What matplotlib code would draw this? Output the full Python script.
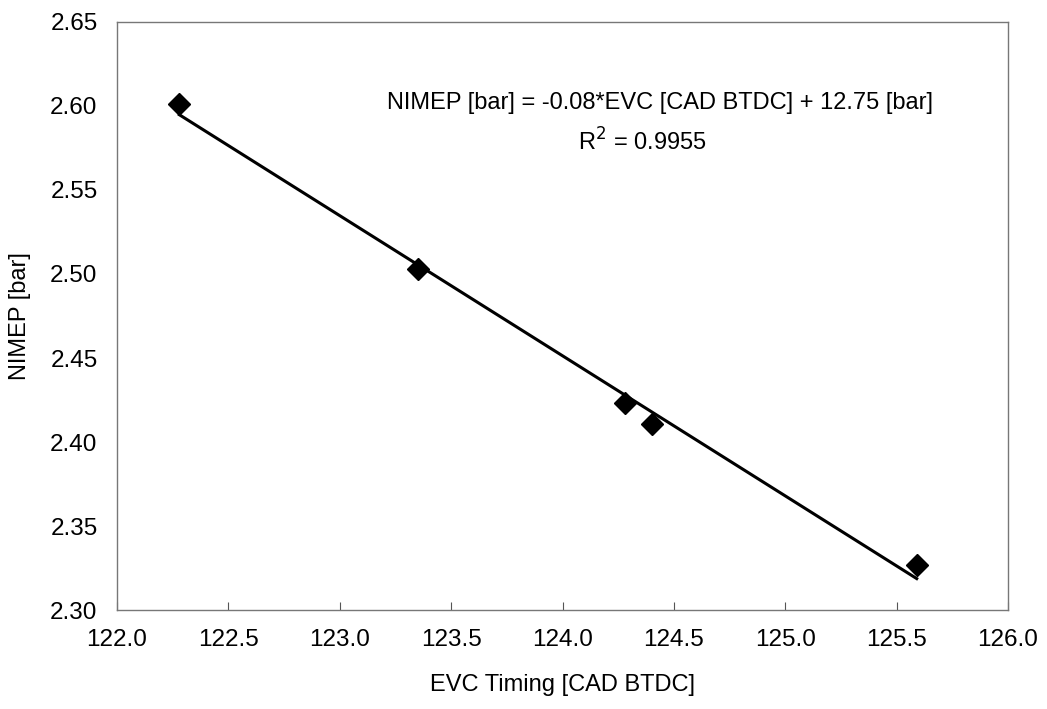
import numpy as np
import matplotlib.pyplot as plt

plt.rcParams['font.family'] = ['Liberation Sans', 'DejaVu Sans']

# EVC timing [CAD BTDC] and net indicated mean effective pressure [bar]
evc_timing = [122.28, 123.35, 124.28, 124.40, 125.59]
nimep = [2.601, 2.503, 2.423, 2.411, 2.327]

x_ticks = [122.0, 122.5, 123.0, 123.5, 124.0, 124.5, 125.0, 125.5, 126.0]
y_ticks = [2.30, 2.35, 2.40, 2.45, 2.50, 2.55, 2.60, 2.65]

# linear trend line over the measured range
slope, intercept = np.polyfit(evc_timing, nimep, 1)
x_fit = np.array([min(evc_timing), max(evc_timing)])
y_fit = slope * x_fit + intercept

fig = plt.figure(figsize=(10.47, 7.09), dpi=100)
ax = fig.add_axes([0.1117, 0.1396, 0.8511, 0.8294])

ax.plot(x_fit, y_fit, color='black', linewidth=2.2, zorder=2)
ax.plot(evc_timing, nimep, linestyle='none', marker='D', markersize=11,
        color='black', zorder=3)

ax.set_xlim(122.0, 126.0)
ax.set_ylim(2.30, 2.65)
ax.set_xticks(x_ticks)
ax.set_yticks(y_ticks)
ax.set_xticklabels([f'{t:.1f}' for t in x_ticks])
ax.set_yticklabels([f'{t:.2f}' for t in y_ticks])
ax.tick_params(axis='both', labelsize=17.5, direction='in', length=6,
               color='#555555', pad=14)
ax.tick_params(axis='y', length=0)

for side in ['left', 'right', 'top', 'bottom']:
    ax.spines[side].set_color('#777777')
    ax.spines[side].set_linewidth(1.0)
    ax.spines[side].set_linestyle((0, (4, 1)))

ax.set_xlabel('EVC Timing [CAD BTDC]', fontsize=17, labelpad=16)
ax.set_ylabel('NIMEP [bar]', fontsize=17, labelpad=14)

# trend line equation label
ax.text(0.609, 0.862, 'NIMEP [bar] = -0.08*EVC [CAD BTDC] + 12.75 [bar]',
        transform=ax.transAxes, fontsize=17, ha='center', va='center')
ax.text(0.590, 0.796, r'R$^2$ = 0.9955',
        transform=ax.transAxes, fontsize=17, ha='center', va='center')

fig.savefig('out.png', dpi=100)
